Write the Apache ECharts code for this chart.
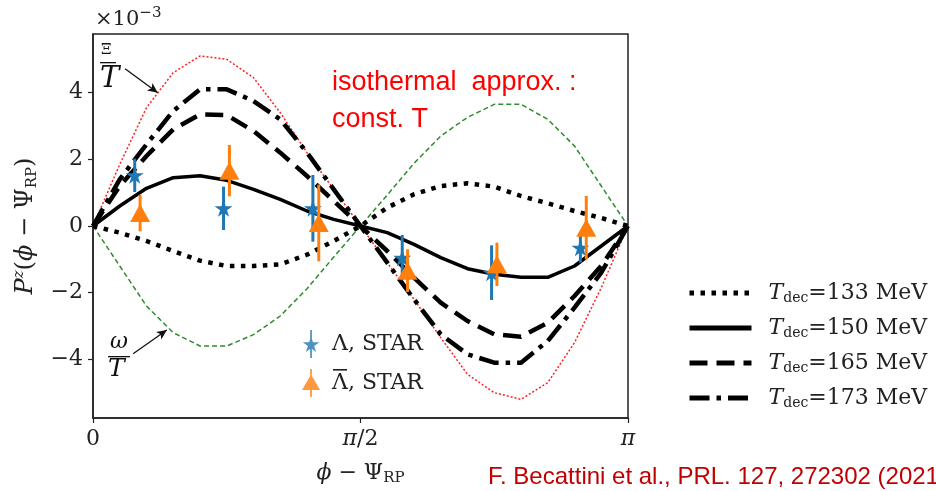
<!DOCTYPE html>
<html>
<head>
<meta charset="utf-8">
<script src="https://cdn.jsdelivr.net/npm/echarts@6/dist/echarts.min.js"></script>
<style>
html, body { margin: 0; padding: 0; background: #fff; }
#main { width: 936px; height: 491px; }
</style>
</head>
<body>
<div id="main"></div>
<script>
// phi - Psi_RP, in units of pi
var phiGrid = [0, 0.05, 0.1, 0.15, 0.2, 0.25, 0.3, 0.35, 0.4, 0.45, 0.5,
               0.55, 0.6, 0.65, 0.7, 0.75, 0.8, 0.85, 0.9, 0.95, 1];

// model curves, P^z in units of 1e-3
var tdec133 = [0, -0.2, -0.45, -0.75, -1.04, -1.2, -1.2, -1.15, -0.86, -0.45, 0,
               0.55, 0.95, 1.2, 1.28, 1.18, 0.9, 0.68, 0.45, 0.24, 0];
var tdec150 = [0, 0.6, 1.13, 1.45, 1.51, 1.37, 1.1, 0.8, 0.45, 0.2, 0,
               -0.2, -0.55, -0.95, -1.28, -1.45, -1.54, -1.54, -1.2, -0.6, 0];
var tdec165 = [0, 1.2, 2.1, 2.9, 3.35, 3.33, 2.85, 2.2, 1.5, 0.75, 0,
               -0.75, -1.55, -2.3, -2.85, -3.25, -3.32, -2.9, -2.1, -1.2, 0];
var tdec173 = [0, 1.4, 2.45, 3.45, 4.1, 4.1, 3.75, 3.2, 2.2, 1.1, 0,
               -1.1, -2.2, -3.25, -3.85, -4.1, -4.1, -3.45, -2.45, -1.4, 0];
var xiOverT = [0, 1.85, 3.55, 4.6, 5.1, 5.0, 4.45, 3.4, 2.2, 1.1, 0,
               -1.1, -2.2, -3.35, -4.45, -5.0, -5.2, -4.7, -3.5, -1.85, 0];
var omegaOverT = [0, -1.2, -2.4, -3.2, -3.6, -3.6, -3.26, -2.7, -1.88, -0.93, 0,
                  0.93, 1.88, 2.7, 3.26, 3.65, 3.65, 3.2, 2.4, 1.2, 0];

// STAR data
var lamX = [0.078, 0.244, 0.411, 0.578, 0.745, 0.911];
var lamY = [1.52, 0.53, 0.53, -0.95, -1.40, -0.65];
var lamErr = [0.50, 0.65, 1.00, 0.68, 0.82, 0.45];
var barX = [0.088, 0.255, 0.422, 0.588, 0.755, 0.922];
var barY = [0.39, 1.66, 0.09, -1.34, -1.15, -0.05];
var barErr = [0.55, 0.77, 1.15, 0.64, 0.65, 0.95];

var xTickLabels = { '0': '{a|0}', '0.5': '{i|π}{a|/2}', '1': '{i|π}' };
var tdecNames = ['133', '150', '165', '173'];

var serif = 'DejaVu Serif';
var ink = '#222';
var starPath = 'path://M50 0 L61.17 34.63 L97.55 34.55 L68.07 55.87 L79.39 90.45 L50 69 L20.61 90.45 L31.93 55.87 L2.45 34.55 L38.83 34.63 Z';
var starBarPath = 'path://M45 -35 L55 -35 L55 125 L45 125 Z M50 0 L61.17 34.63 L97.55 34.55 L68.07 55.87 L79.39 90.45 L50 69 L20.61 90.45 L31.93 55.87 L2.45 34.55 L38.83 34.63 Z';
var triBarPath = 'path://M45 -30 L55 -30 L55 125 L45 125 Z M50 0 L100 86 L0 86 Z';

function pairs(xs, ys) {
    return xs.map(function (x, i) { return [x, ys[i]]; });
}

function errBars(xs, ys, es) {
    return xs.map(function (x, i) { return [x, ys[i], es[i]]; });
}

function modelLine(name, ys, color, width, dash) {
    return {
        name: name, type: 'line', data: pairs(phiGrid, ys),
        symbol: 'none', z: 2, silent: true,
        lineStyle: { color: color, width: width, type: dash, cap: 'butt' },
        itemStyle: { color: color }
    };
}

function errorSeries(data, color, z) {
    return {
        type: 'custom', data: data, z: z, silent: true,
        renderItem: function (params, api) {
            var x = api.value(0), y = api.value(1), e = api.value(2);
            var top = api.coord([x, y + e]);
            var bot = api.coord([x, y - e]);
            return {
                type: 'line',
                shape: { x1: top[0], y1: top[1], x2: bot[0], y2: bot[1] },
                style: { stroke: color, lineWidth: 3 }
            };
        }
    };
}

function arrowLine(from, to) {
    return {
        silent: true, symbolSize: [7, 10], animation: false,
        label: { show: false },
        lineStyle: { color: '#111', width: 1.3, type: 'solid' },
        data: [[{ coord: from, symbol: 'none' }, { coord: to, symbol: 'arrow' }]]
    };
}

var chart = echarts.init(document.getElementById('main'));

var xiSeries = modelLine('xi', xiOverT, '#ff2020', 1.5, [2, 2]);
xiSeries.markLine = arrowLine([0.06, 4.72], [0.121, 4.0]);
var omegaSeries = modelLine('omega', omegaOverT, '#2e8b2e', 1.5, [5, 3]);
omegaSeries.markLine = arrowLine([0.075, -3.83], [0.138, -3.12]);

var mathRich = {
    a: { fontFamily: serif, fontSize: 22, color: ink, lineHeight: 26 },
    i: { fontFamily: serif, fontStyle: 'italic', fontSize: 22, color: ink, lineHeight: 26 },
    sup: { fontFamily: serif, fontStyle: 'italic', fontSize: 15, color: ink, verticalAlign: 'top', lineHeight: 15 },
    sub: { fontFamily: serif, fontSize: 15, color: ink, verticalAlign: 'bottom', lineHeight: 14 }
};

var option = {
    animation: false,
    backgroundColor: '#fff',
    grid: {
        left: 93, right: 308, top: 34, bottom: 69,
        show: true, borderColor: ink, borderWidth: 1.5
    },
    xAxis: {
        type: 'value', min: 0, max: 1, interval: 0.5,
        axisLine: { onZero: false, lineStyle: { color: ink, width: 1.5 } },
        axisTick: { length: 5, lineStyle: { color: ink, width: 1.2 } },
        splitLine: { show: false },
        axisLabel: {
            margin: 8, rich: mathRich,
            formatter: function (v) { return xTickLabels[String(v)]; }
        },
        name: '{i|ϕ}{a| − Ψ}{sub|RP}',
        nameLocation: 'middle', nameGap: 42,
        nameTextStyle: { rich: mathRich }
    },
    yAxis: {
        type: 'value', min: -5.76, max: 5.76, splitNumber: 5,
        axisLine: { lineStyle: { color: ink, width: 1.5 } },
        axisTick: { length: 5, lineStyle: { color: ink, width: 1.2 } },
        splitLine: { show: false },
        axisLabel: {
            fontFamily: serif, fontSize: 22, color: ink, margin: 10,
            showMinLabel: false, showMaxLabel: false,
            formatter: function (v) { return v < 0 ? '−' + Math.abs(v) : String(v); }
        },
        name: '{i|P}{sup|z}{a|(}{i|ϕ}{a| − Ψ}{sub|RP}{a|)}',
        nameLocation: 'middle', nameGap: 52, nameRotate: 90,
        nameTextStyle: {
            rich: {
                a: { fontFamily: serif, fontSize: 24, color: ink, lineHeight: 28 },
                i: { fontFamily: serif, fontStyle: 'italic', fontSize: 24, color: ink, lineHeight: 28 },
                sup: { fontFamily: serif, fontStyle: 'italic', fontSize: 15, color: ink, verticalAlign: 'top', lineHeight: 15 },
                sub: { fontFamily: serif, fontSize: 15, color: ink, verticalAlign: 'bottom', lineHeight: 15 }
            }
        }
    },
    legend: [{
        data: ['T133', 'T150', 'T165', 'T173'],
        orient: 'vertical', left: 682, top: 277,
        itemWidth: 62, itemHeight: 16, itemGap: 12,
        selectedMode: false,
        itemStyle: { opacity: 0 },
        lineStyle: { width: 5 },
        formatter: function (name) {
            return '{g|}{t|T}{s|dec}{n|=' + name.slice(1) + ' MeV}';
        },
        textStyle: {
            rich: {
                g: { width: 12 },
                t: { fontFamily: serif, fontStyle: 'italic', fontSize: 22, color: ink, lineHeight: 24 },
                s: { fontFamily: serif, fontSize: 14, color: ink, verticalAlign: 'bottom', lineHeight: 14 },
                n: { fontFamily: serif, fontSize: 22, color: ink, lineHeight: 24 }
            }
        }
    }, {
        data: ['lamLeg', 'barLeg'],
        orient: 'vertical', left: 297, top: 325,
        itemWidth: 20, itemHeight: 28, itemGap: 11,
        selectedMode: false,
        formatter: function (name) { return name === 'lamLeg' ? 'Λ, STAR' : 'Λ, STAR'; },
        textStyle: { fontFamily: serif, fontSize: 22, color: ink, padding: [0, 0, 0, 6] }
    }],
    graphic: [
        {
            type: 'text', left: 95, top: 6,
            style: {
                text: '{a|×10}{b|−3}',
                rich: {
                    a: { fontFamily: serif, fontSize: 21, fill: ink, lineHeight: 28 },
                    b: { fontFamily: serif, fontSize: 15, fill: ink, verticalAlign: 'top', lineHeight: 15 }
                }
            }
        },
        {
            type: 'text', left: 332, top: 64,
            style: {
                text: 'isothermal  approx. :\nconst. T',
                fontFamily: 'Liberation Sans', fontSize: 27, lineHeight: 37, fill: '#ff0000'
            }
        },
        {
            type: 'text', left: 488, top: 465,
            style: {
                text: 'F. Becattini et al., PRL. 127, 272302 (2021)',
                fontFamily: 'Liberation Sans', fontSize: 24, fill: '#c00000'
            }
        },
        // bar over the anti-Lambda in the legend
        { type: 'rect', shape: { x: 333, y: 369, width: 14, height: 1.6 }, style: { fill: ink } },
        // Xi / T label
        { type: 'text', left: 101, top: 43, style: { text: 'Ξ', fontFamily: serif, fontSize: 15, fill: '#111' } },
        { type: 'rect', shape: { x: 100, y: 62, width: 16, height: 1.3 }, style: { fill: '#111' } },
        { type: 'text', left: 100, top: 65, style: { text: 'T', fontFamily: serif, fontStyle: 'italic', fontSize: 29, fill: '#111' } },
        // omega / T label
        { type: 'text', left: 110, top: 331, style: { text: 'ω', fontFamily: serif, fontStyle: 'italic', fontSize: 22, fill: '#111' } },
        { type: 'rect', shape: { x: 108, y: 356, width: 22, height: 1.3 }, style: { fill: '#111' } },
        { type: 'text', left: 108, top: 357, style: { text: 'T', fontFamily: serif, fontStyle: 'italic', fontSize: 25, fill: '#111' } }
    ],
    series: [
        xiSeries,
        omegaSeries,
        modelLine('T133', tdec133, '#000', 4.5, [4.5, 6.5]),
        modelLine('T150', tdec150, '#000', 3.5, 'solid'),
        modelLine('T165', tdec165, '#000', 4.5, [18, 9]),
        modelLine('T173', tdec173, '#000', 4.5, [20, 7, 4.5, 7]),
        errorSeries(errBars(lamX, lamY, lamErr), '#1f77b4', 5),
        {
            name: 'lam', type: 'scatter', data: pairs(lamX, lamY), z: 6,
            symbol: starPath, symbolSize: [18, 17], silent: true,
            itemStyle: { color: '#1f77b4', opacity: 1 }
        },
        errorSeries(errBars(barX, barY, barErr), '#ff7f0e', 7),
        {
            name: 'bar', type: 'scatter', data: pairs(barX, barY), z: 8,
            symbol: 'triangle', symbolSize: [20, 18], silent: true,
            itemStyle: { color: '#ff7f0e', opacity: 1 }
        },
        { name: 'lamLeg', type: 'scatter', data: [], symbol: starBarPath, itemStyle: { color: '#1f77b4' } },
        { name: 'barLeg', type: 'scatter', data: [], symbol: triBarPath, itemStyle: { color: '#ff7f0e' } }
    ]
};

chart.setOption(option);

window.addEventListener('resize', function () {
    chart.resize();
});
</script>
</body>
</html>
